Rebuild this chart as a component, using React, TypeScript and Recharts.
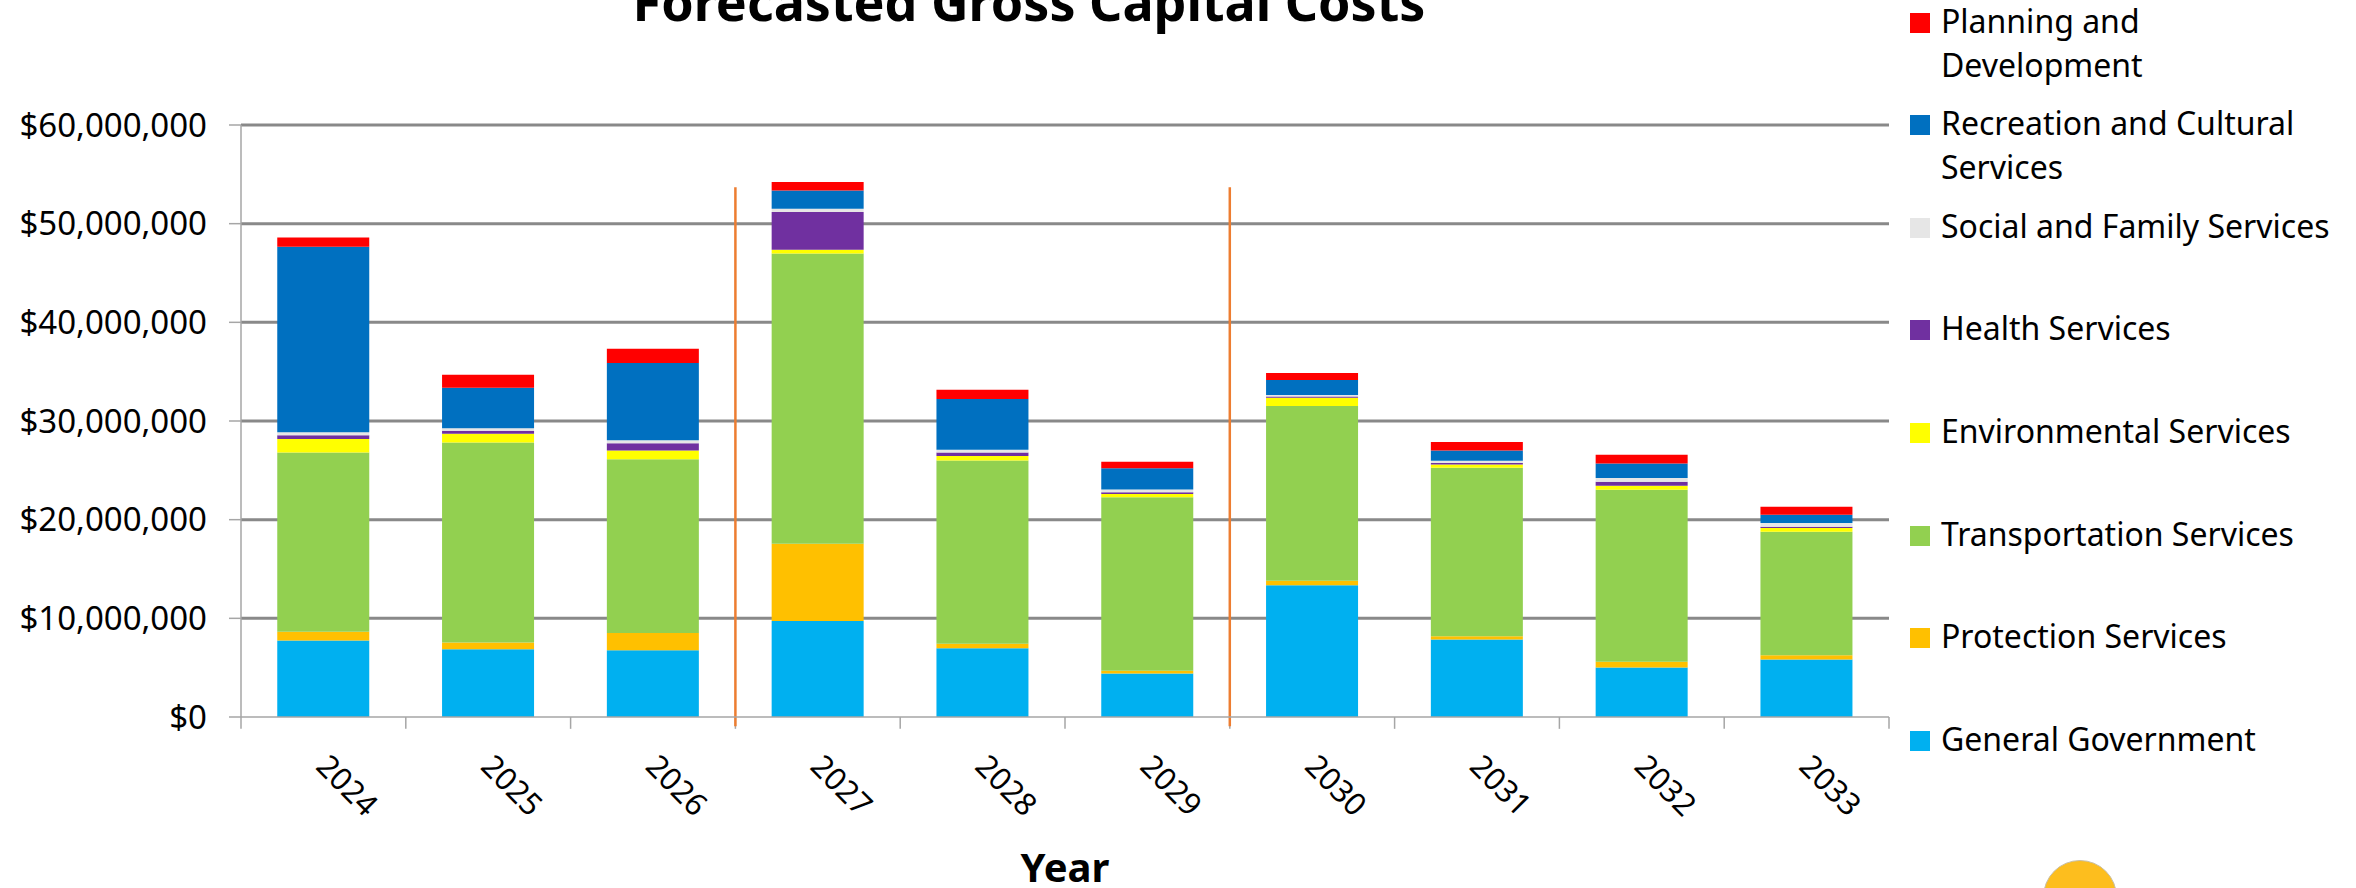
import React from 'react';
import { BarChart, Bar, XAxis, YAxis, CartesianGrid, Legend, ReferenceLine, Label } from 'recharts';

// values in millions of dollars
const years = ['2024', '2025', '2026', '2027', '2028', '2029', '2030', '2031', '2032', '2033'];
const generalGovernment = [7.75, 6.86, 6.77, 9.72, 6.97, 4.42, 13.35, 7.85, 5.01, 5.82];
const protectionServices = [0.89, 0.69, 1.75, 7.83, 0.46, 0.27, 0.47, 0.33, 0.58, 0.44];
const transportationServices = [18.17, 20.27, 17.6, 29.42, 18.57, 17.59, 17.69, 17.09, 17.45, 12.52];
const environmentalServices = [1.36, 0.89, 0.89, 0.38, 0.46, 0.31, 0.84, 0.33, 0.4, 0.38];
const healthServices = [0.38, 0.31, 0.74, 3.84, 0.36, 0.19, 0.14, 0.14, 0.41, 0.13];
const socialFamilyServices = [0.31, 0.24, 0.3, 0.31, 0.27, 0.28, 0.14, 0.23, 0.37, 0.38];
const recreationCultural = [18.79, 4.11, 7.83, 1.86, 5.15, 2.16, 1.52, 1.05, 1.48, 0.84];
const planningDevelopment = [0.94, 1.31, 1.44, 0.86, 0.92, 0.66, 0.71, 0.85, 0.88, 0.81];

const yTicks = [0, 10000000, 20000000, 30000000, 40000000, 50000000, 60000000];
const phaseBreaks = ['2027', '2030'];

const series = [
  { key: 'general', name: 'General Government', color: '#00B0F0', values: generalGovernment, legend: ['General Government'] },
  { key: 'protection', name: 'Protection Services', color: '#FFC000', values: protectionServices, legend: ['Protection Services'] },
  { key: 'transportation', name: 'Transportation Services', color: '#92D050', values: transportationServices, legend: ['Transportation Services'] },
  { key: 'environmental', name: 'Environmental Services', color: '#FFFF00', values: environmentalServices, legend: ['Environmental Services'] },
  { key: 'health', name: 'Health Services', color: '#7030A0', values: healthServices, legend: ['Health Services'] },
  { key: 'social', name: 'Social and Family Services', color: '#E6E6E6', values: socialFamilyServices, legend: ['Social and Family Services'] },
  { key: 'recreation', name: 'Recreation and Cultural Services', color: '#0070C0', values: recreationCultural, legend: ['Recreation and Cultural', 'Services'] },
  { key: 'planning', name: 'Planning and Development', color: '#FF0000', values: planningDevelopment, legend: ['Planning and', 'Development'] },
];

const data = years.map((year, i) => {
  const row: any = { year };
  series.forEach((s) => {
    row[s.key] = Math.round(s.values[i] * 1000000);
  });
  return row;
});

const font = 'Noto Sans';

const YearTick = (props: any) => {
  const { x, y, payload } = props;
  const ox = x - 9;
  const oy = y + 51;
  return (
    <text x={ox} y={oy} transform={`rotate(45 ${ox} ${oy})`} textAnchor="start" fontFamily={font} fontSize={31} fill="#000">
      {payload.value}
    </text>
  );
};

const seriesIndex = (name: string) => series.findIndex((s) => s.name === name);

const renderLegend = (props: any) => {
  // top of the legend shows the top of the stack
  const items = [...(props.payload || [])].sort((a: any, b: any) => seriesIndex(b.value) - seriesIndex(a.value));
  return (
    <div style={{ position: 'relative', fontFamily: font, fontSize: 32, color: '#000' }}>
      {items.map((entry: any, i: number) => {
        const s = series[seriesIndex(entry.value)];
        const lines = s ? s.legend : [entry.value];
        return (
          <div key={entry.value} style={{ position: 'absolute', left: 0, top: -1.5 + i * 102.6, display: 'flex' }}>
            <div style={{ width: 20, height: 20, background: entry.color, marginTop: 14, marginRight: 11, flex: 'none' }} />
            <div style={{ lineHeight: '44px', whiteSpace: 'nowrap' }}>
              {lines.map((l) => (
                <div key={l}>{l}</div>
              ))}
            </div>
          </div>
        );
      })}
    </div>
  );
};

export default function App() {
  return (
    <div style={{ position: 'absolute', left: 0, top: 0, width: 2356, height: 888, overflow: 'hidden', background: '#fff' }}>
      <BarChart
        width={2356}
        height={888}
        data={data}
        margin={{ top: 125, right: 467, bottom: 0, left: 0 }}
        barCategoryGap="22%"
      >
        <CartesianGrid
          vertical={false}
          stroke="#898989"
          strokeWidth={3}
          horizontalValues={yTicks.filter((v) => v > 0)}
        />
        <XAxis
          dataKey="year"
          interval={0}
          height={171}
          tickLine={false}
          tickSize={0}
          tickMargin={0}
          axisLine={{ stroke: '#a6a6a6', strokeWidth: 1.5 }}
          tick={<YearTick />}
        >
          <Label
            value="Year"
            position="insideBottom"
            offset={6}
            style={{ fontFamily: font, fontSize: 40, fontWeight: 'bold', fill: '#000' }}
          />
        </XAxis>
        <YAxis
          width={241}
          domain={[0, 60000000]}
          ticks={yTicks}
          interval={0}
          tickSize={12}
          tickMargin={22}
          tickLine={{ stroke: '#a6a6a6', strokeWidth: 1.5 }}
          axisLine={{ stroke: '#a6a6a6', strokeWidth: 1.5 }}
          tick={{ fontFamily: font, fontSize: 33, fill: '#000' }}
          tickFormatter={(v: number) => '$' + v.toLocaleString('en-US')}
        />
        {series.map((s) => (
          <Bar key={s.key} dataKey={s.key} name={s.name} stackId="cost" fill={s.color} isAnimationActive={false} />
        ))}
        {years.map((y) => (
          <ReferenceLine
            key={'tick-' + y}
            segment={[{ x: y, y: 0 }, { x: y, y: -1200000 }]}
            position="start"
            ifOverflow="visible"
            stroke="#a6a6a6"
            strokeWidth={1.5}
          />
        ))}
        <ReferenceLine
          segment={[{ x: years[years.length - 1], y: 0 }, { x: years[years.length - 1], y: -1200000 }]}
          position="end"
          ifOverflow="visible"
          stroke="#a6a6a6"
          strokeWidth={1.5}
        />
        {phaseBreaks.map((y) => (
          <ReferenceLine
            key={'phase-' + y}
            segment={[{ x: y, y: 53700000 }, { x: y, y: -950000 }]}
            position="start"
            ifOverflow="visible"
            stroke="#ED7D31"
            strokeWidth={2.5}
          />
        ))}
        <Legend
          layout="vertical"
          align="center"
          verticalAlign="middle"
          wrapperStyle={{ left: 1910, top: 0, width: 446, height: 888 }}
          content={renderLegend}
        />
      </BarChart>
      <div
        style={{
          position: 'absolute',
          left: 0,
          top: -25,
          width: 2058,
          textAlign: 'center',
          fontFamily: font,
          fontWeight: 'bold',
          fontSize: 52,
          lineHeight: '52px',
          whiteSpace: 'nowrap',
          color: '#000',
        }}
      >
        Forecasted Gross Capital Costs
      </div>
      <div
        style={{
          position: 'absolute',
          left: 2043,
          top: 860,
          width: 74,
          height: 74,
          borderRadius: '50%',
          background: '#FDBE1E',
          border: '1px solid #c8c0a8',
          boxSizing: 'border-box',
        }}
      />
    </div>
  );
}
